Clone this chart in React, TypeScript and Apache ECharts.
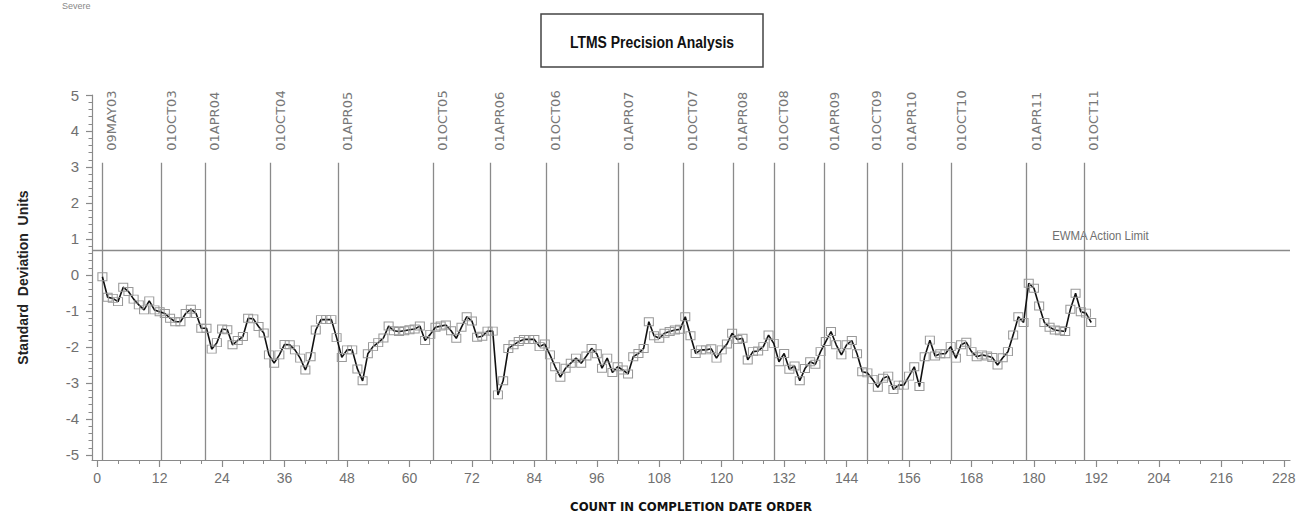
import React, { useEffect, useRef } from "react";
import * as echarts from "echarts";

// EWMA values in standard deviation units, test count 1..191
const ewmaValues = [
  -0.05, -0.62, -0.65, -0.74, -0.34, -0.46, -0.67, -0.83, -0.97, -0.72,
  -0.97, -1.02, -1.07, -1.2, -1.3, -1.3, -1.07, -0.95, -1.07, -1.48,
  -1.48, -2.06, -1.88, -1.5, -1.52, -1.94, -1.82, -1.71, -1.2, -1.22,
  -1.43, -1.61, -2.22, -2.45, -2.22, -1.93, -1.94, -2.08, -2.31, -2.64,
  -2.27, -1.53, -1.24, -1.24, -1.24, -1.74, -2.29, -2.08, -2.08, -2.61,
  -2.94, -2.19, -1.99, -1.88, -1.75, -1.42, -1.55, -1.57, -1.55, -1.52,
  -1.5, -1.42, -1.82, -1.65, -1.45, -1.42, -1.39, -1.55, -1.76, -1.45,
  -1.16, -1.28, -1.73, -1.7, -1.56, -1.56, -3.33, -2.94, -2.04, -1.94,
  -1.85, -1.79, -1.79, -1.79, -1.99, -1.92, -2.22, -2.55, -2.84, -2.59,
  -2.45, -2.31, -2.45, -2.25, -2.04, -2.19, -2.59, -2.31, -2.71, -2.55,
  -2.64, -2.75, -2.27, -2.18, -2.04, -1.3, -1.69, -1.76, -1.62, -1.57,
  -1.53, -1.51, -1.16, -1.69, -2.18, -2.08, -2.08, -2.05, -2.31, -2.08,
  -1.92, -1.62, -1.79, -1.76, -2.36, -2.13, -2.11, -1.99, -1.67, -1.9,
  -2.41, -2.18, -2.62, -2.53, -2.94, -2.6, -2.41, -2.48, -2.13, -1.85,
  -1.57, -1.94, -2.22, -1.94, -1.82, -2.19, -2.69, -2.72, -2.9, -3.12,
  -2.87, -2.81, -3.18, -3.06, -3.06, -2.81, -2.55, -3.1, -2.27, -1.81,
  -2.25, -2.19, -2.19, -1.99, -2.31, -1.94, -1.87, -2.13, -2.27, -2.22,
  -2.25, -2.29, -2.5, -2.3, -2.13, -1.67, -1.16, -1.32, -0.23, -0.37,
  -0.86, -1.32, -1.45, -1.53, -1.55, -1.57, -0.95, -0.51, -1.02, -1.06,
  -1.32,
];

const dateLabels = [
  "09MAY03", "01OCT03", "01APR04", "01OCT04", "01APR05", "01OCT05",
  "01APR06", "01OCT06", "01APR07", "01OCT07", "01APR08", "01OCT08",
  "01APR09", "01OCT09", "01APR10", "01OCT10", "01APR11", "01OCT11",
];
const datePositions = [
  1, 12.4, 20.7, 33.3, 46.3, 64.6, 75.5, 86.3, 100.2, 112.6, 122.2, 130.1,
  139.8, 147.9, 154.7, 164.2, 178.6, 189.6,
];

const actionLimit = 0.7;
const actionLabel = "EWMA Action Limit";

const xTickLabels = [0, 12, 24, 36, 48, 60, 72, 84, 96, 108, 120, 132, 144, 156, 168, 180, 192, 204, 216, 228];
const yTickLabels = [-5, -4, -3, -2, -1, 0, 1, 2, 3, 4, 5];

const xMin = -1;
const xMax = 229.2;
const yMin = -5.14;
const yMax = 5;
const dateLineTop = 3.12;

const xMinorTicks: number[] = [];
for (let v = 0; v <= 228; v += 4) xMinorTicks.push(v);
const yMinorTicks: number[] = [];
for (let k = -25; k <= 25; k++) yMinorTicks.push(Math.round(k * 2) / 10);

const SANS = '"Liberation Sans", Arial, sans-serif';
const NARROW = '"Liberation Sans Narrow", "DejaVu Sans Condensed", "Liberation Sans", sans-serif';

export default function App() {
  const ref = useRef<HTMLDivElement>(null);

  useEffect(() => {
    if (!ref.current) return;
    const chart = echarts.init(ref.current, null, { renderer: "svg" });

    const gridRect = { left: 92, right: 17, top: 95, bottom: 69 };

    const option: any = {
      animation: false,
      backgroundColor: "#ffffff",
      grid: [
        { ...gridRect, containLabel: false },
        { ...gridRect, containLabel: false },
      ],
      xAxis: [
        {
          type: "value",
          gridIndex: 0,
          min: xMin,
          max: xMax,
          splitLine: { show: false },
          axisLine: { show: true, onZero: false, lineStyle: { color: "#8a8a8a", width: 1.2 } },
          axisTick: { show: true, customValues: xTickLabels, length: 7, lineStyle: { color: "#8a8a8a", width: 1.2 } },
          axisLabel: {
            customValues: xTickLabels,
            margin: 11,
            fontSize: 14,
            color: "#707070",
            fontFamily: SANS,
          },
          name: "COUNT IN COMPLETION DATE ORDER",
          nameLocation: "middle",
          nameGap: 40,
          nameTextStyle: {
            fontFamily: NARROW,
            fontWeight: "bold",
            fontSize: 13,
            color: "#111",
          },
        },
        {
          type: "value",
          gridIndex: 1,
          min: xMin,
          max: xMax,
          splitLine: { show: false },
          axisLine: { show: false, onZero: false },
          axisTick: { show: true, customValues: xMinorTicks, length: 4, lineStyle: { color: "#8a8a8a", width: 1 } },
          axisLabel: { show: false },
        },
      ],
      yAxis: [
        {
          type: "value",
          gridIndex: 0,
          min: yMin,
          max: yMax,
          splitLine: { show: false },
          axisLine: { show: true, onZero: false, lineStyle: { color: "#8a8a8a", width: 1.2 } },
          axisTick: { show: true, customValues: yTickLabels, length: 6, lineStyle: { color: "#8a8a8a", width: 1.2 } },
          axisLabel: {
            customValues: yTickLabels,
            margin: 13,
            fontSize: 15,
            color: "#707070",
            fontFamily: SANS,
          },
          name: "Standard\u00a0\u00a0Deviation\u00a0\u00a0Units",
          nameLocation: "middle",
          nameGap: 62,
          nameTextStyle: {
            fontFamily: SANS,
            fontWeight: "bold",
            fontSize: 14,
            color: "#222",
          },
        },
        {
          type: "value",
          gridIndex: 1,
          min: yMin,
          max: yMax,
          splitLine: { show: false },
          axisLine: { show: false, onZero: false },
          axisTick: { show: true, customValues: yMinorTicks, length: 3.5, lineStyle: { color: "#8a8a8a", width: 1 } },
          axisLabel: { show: false },
        },
      ],
      series: [
        {
          type: "line",
          name: "EWMA",
          xAxisIndex: 0,
          yAxisIndex: 0,
          data: ewmaValues.map((v, i) => [i + 1, v]),
          symbol: "rect",
          symbolSize: [9, 8],
          showAllSymbol: true,
          lineStyle: { color: "#111", width: 1.6 },
          itemStyle: { color: "rgba(255,255,255,0)", borderColor: "#999", borderWidth: 1 },
          z: 5,
          markLine: {
            silent: true,
            symbol: ["none", "none"],
            label: { show: false },
            lineStyle: { color: "#8a8a8a", width: 1.3, type: "solid" },
            z: 2,
            data: [
              ...datePositions.map((p) => [
                { coord: [p, dateLineTop] },
                { coord: [p, yMin] },
              ]),
              [{ coord: [xMin, actionLimit] }, { coord: [xMax, actionLimit] }],
            ],
          },
        },
      ],
    };

    chart.setOption(option);

    const dateTexts = dateLabels.map((lab, k) => {
      const pt = chart.convertToPixel({ xAxisIndex: 0, yAxisIndex: 0 }, [datePositions[k], dateLineTop]) as number[];
      return {
        type: "text",
        x: pt[0] + 9.5,
        y: pt[1] - 12,
        rotation: Math.PI / 2,
        style: {
          text: lab,
          fill: "#777",
          fontSize: 13,
          fontFamily: '"DejaVu Sans", sans-serif',
          align: "left",
          verticalAlign: "middle",
        },
        silent: true,
      };
    });

    const limitPt = chart.convertToPixel({ xAxisIndex: 0, yAxisIndex: 0 }, [183.5, actionLimit]) as number[];

    chart.setOption({
      graphic: [
        {
          type: "text",
          left: 62,
          top: 1,
          style: { text: "Severe", fill: "#888", fontSize: 9, fontFamily: SANS },
        },
        {
          type: "rect",
          shape: { x: 541, y: 14, width: 222, height: 53 },
          style: { fill: "#fff", stroke: "#444", lineWidth: 1.5 },
        },
        {
          type: "text",
          x: 652,
          y: 42,
          scaleX: 0.82,
          style: {
            text: "LTMS Precision Analysis",
            fill: "#111",
            fontSize: 17,
            fontWeight: "bold",
            fontFamily: SANS,
            align: "center",
            verticalAlign: "middle",
          },
        },
        {
          type: "text",
          x: limitPt[0],
          y: limitPt[1] - 14,
          scaleX: 0.88,
          style: {
            text: actionLabel,
            fill: "#707070",
            fontSize: 13,
            fontFamily: SANS,
            align: "left",
            verticalAlign: "middle",
          },
        },
        ...dateTexts,
      ],
    });

    return () => {
      chart.dispose();
    };
  }, []);

  return (
    <div
      ref={ref}
      style={{ position: "absolute", left: 0, top: 0, width: 1307, height: 529 }}
    />
  );
}
